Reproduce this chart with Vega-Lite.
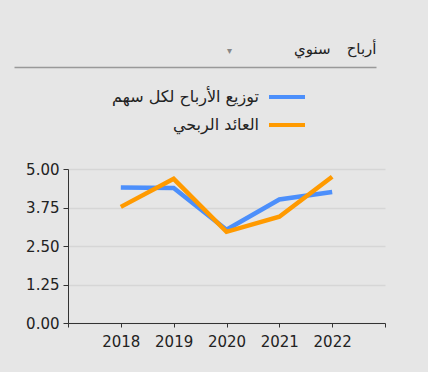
{
  "$schema": "https://vega.github.io/schema/vega-lite/v6.json",
  "width": 317,
  "height": 154,
  "autosize": {"type": "none"},
  "padding": {"left": 68, "top": 169, "right": 43, "bottom": 49},
  "background": "#e6e6e6",
  "config": {
    "view": {"stroke": null},
    "font": "DejaVu Sans, sans-serif"
  },
  "data": {
    "values": [
      {"year": 2018, "series": "توزيع الأرباح لكل سهم", "value": 4.40},
      {"year": 2019, "series": "توزيع الأرباح لكل سهم", "value": 4.38},
      {"year": 2020, "series": "توزيع الأرباح لكل سهم", "value": 3.03},
      {"year": 2021, "series": "توزيع الأرباح لكل سهم", "value": 4.01},
      {"year": 2022, "series": "توزيع الأرباح لكل سهم", "value": 4.25},
      {"year": 2018, "series": "العائد الربحي", "value": 3.77},
      {"year": 2019, "series": "العائد الربحي", "value": 4.68},
      {"year": 2020, "series": "العائد الربحي", "value": 2.96},
      {"year": 2021, "series": "العائد الربحي", "value": 3.45},
      {"year": 2022, "series": "العائد الربحي", "value": 4.75}
    ]
  },
  "layer": [
    {
      "mark": {"type": "line", "strokeWidth": 4.5, "strokeCap": "butt"},
      "encoding": {
        "x": {
          "field": "year", "type": "quantitative",
          "scale": {"domain": [2017, 2023], "nice": false, "zero": false},
          "axis": {
            "title": null, "values": [2017, 2018, 2019, 2020, 2021, 2022, 2023],
            "format": "d",
            "labelExpr": "datum.value == 2017 || datum.value == 2023 ? '' : datum.label",
            "grid": false, "domainColor": "#333", "tickColor": "#333", "tickSize": 4,
            "labelFontSize": 15, "labelColor": "#222", "labelPadding": 7, "labelFlush": false
          }
        },
        "y": {
          "field": "value", "type": "quantitative",
          "scale": {"domain": [0, 5], "nice": false},
          "axis": {
            "title": null, "values": [0, 1.25, 2.5, 3.75, 5], "format": ".2f",
            "domainColor": "#333", "tickColor": "#333", "tickSize": 5,
            "gridColor": "#d6d6d6", "gridWidth": 1.5,
            "labelFontSize": 15, "labelColor": "#222", "labelPadding": 4
          }
        },
        "color": {
          "field": "series", "type": "nominal",
          "scale": {"domain": ["توزيع الأرباح لكل سهم", "العائد الربحي"], "range": ["#4c8ffb", "#ff9a00"]},
          "legend": {
            "orient": "none", "legendX": 199, "legendY": -92, "title": null,
            "symbolType": "stroke", "symbolSize": 1296, "symbolStrokeWidth": 4,
            "labelAlign": "right", "labelOffset": -48, "labelFontSize": 16,
            "labelColor": "#222", "rowPadding": -14, "labelLimit": 300
          }
        }
      }
    },
    {
      "mark": {"type": "text", "text": ""},
      "encoding": {
        "x": {
          "datum": 0, "type": "quantitative",
          "scale": {"domain": [0, 362], "range": [-54, 308], "nice": false, "zero": false},
          "axis": {
            "orient": "top", "offset": 102, "title": null,
            "values": [217.5, 316, 362], "grid": false, "ticks": false, "tickSize": 0,
            "domainColor": "#999", "domainWidth": 1.5,
            "labelExpr": "datum.value == 362 ? 'أرباح' : datum.value == 316 ? 'سنوي' : '▾'",
            "labelAlign": "right", "labelBaseline": "alphabetic", "labelPadding": 14,
            "labelFlush": false, "labelOverlap": false,
            "labelFontSize": {"condition": {"test": "datum.value < 300", "value": 10}, "value": 15},
            "labelColor": {"condition": {"test": "datum.value < 300", "value": "#888"}, "value": "#222"}
          }
        }
      }
    }
  ],
  "resolve": {"scale": {"x": "independent"}, "axis": {"x": "independent"}}
}
